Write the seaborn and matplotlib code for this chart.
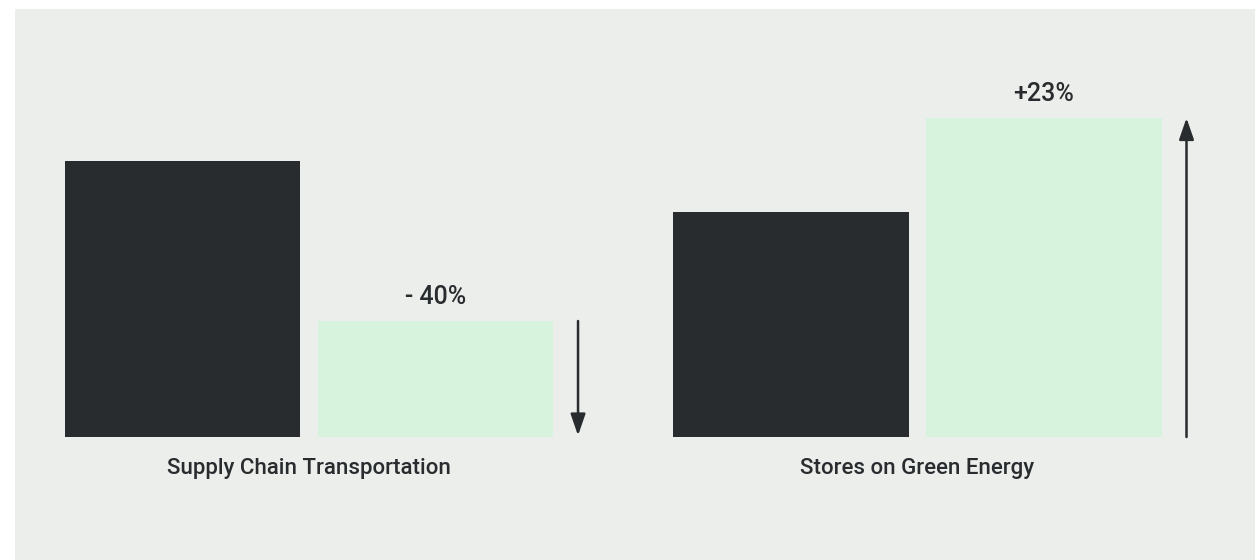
import pandas as pd
import matplotlib.pyplot as plt
import matplotlib.transforms as mtransforms
import seaborn as sns

# data (bar heights, arbitrary units)
categories = ['Supply Chain Transportation', 'Stores on Green Energy']
periods = ['Before', 'After']
before_vals = [276, 225]
after_vals = [116, 319]
change_labels = ['- 40%', '+23%']

BG = '#eceeeb'
DARK = '#292c2f'
GREEN = '#d7f3de'

df = pd.DataFrame({
    'category': categories * 2,
    'period': [periods[0]] * 2 + [periods[1]] * 2,
    'value': before_vals + after_vals,
})

sns.set_theme(style='white')
plt.rcParams['font.family'] = ['Roboto', 'DejaVu Sans']

fig = plt.figure(figsize=(12.55, 5.6), dpi=100, facecolor='white')
ax = fig.add_axes([15 / 1255, 0, 1240 / 1255, 551 / 560])
ax.set_facecolor(BG)

sns.barplot(data=df, x='category', y='value', hue='period', order=categories,
            hue_order=periods, palette=[DARK, GREEN], width=0.8316, gap=0.071,
            saturation=1, linewidth=0, legend=False, ax=ax)

ax.set_xlim(-0.4832, 1.5547)
ax.set_ylim(-123, 428)
for s in ax.spines.values():
    s.set_visible(False)
# put the category labels right under the baseline
ax.spines['bottom'].set_position(('data', 0))
ax.set_yticks([])
ax.set_xlabel('')
ax.set_ylabel('')
ax.tick_params(axis='x', length=0, pad=15, labelsize=16, labelcolor=DARK)
for t in ax.get_xticklabels():
    t.set_fontweight(500)

# green bars are the second hue container
green_bars = ax.containers[1]
shift = mtransforms.offset_copy(ax.transData, fig=fig, x=25, y=0, units='dots')
for bar, lab in zip(green_bars, change_labels):
    cx = bar.get_x() + bar.get_width() / 2
    top = bar.get_height()
    ax.annotate(lab, (cx, top), xytext=(0, 12.5), textcoords='offset points',
                ha='center', va='baseline', fontsize=18, fontweight=500, color=DARK)
    right = bar.get_x() + bar.get_width()
    # arrow shows direction of change
    if lab.startswith('-'):
        start, end = top, 1.5
    else:
        start, end = 0, top
    ax.annotate('', xy=(right, end), xycoords=shift, xytext=(right, start), textcoords=shift,
                arrowprops=dict(arrowstyle='-|>,head_length=1.3,head_width=0.45',
                                mutation_scale=10, lw=1.8, color=DARK,
                                shrinkA=0, shrinkB=0))

fig.savefig('out.png', dpi=100, facecolor='white')
